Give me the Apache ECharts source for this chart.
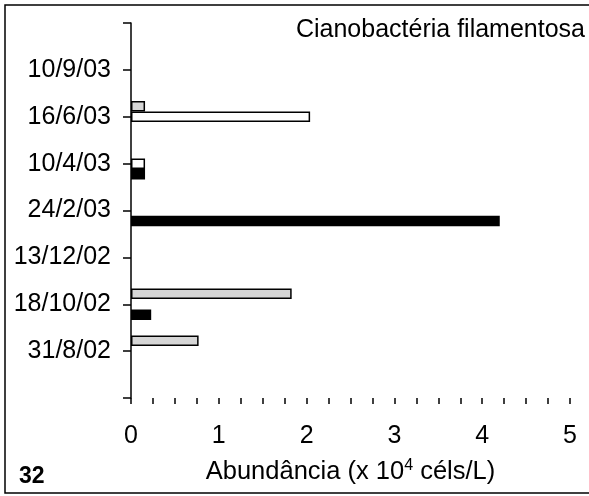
<!DOCTYPE html>
<html>
<head>
<meta charset="utf-8">
<script src="https://cdn.jsdelivr.net/npm/echarts@6/dist/echarts.min.js"></script>
<style>html,body{margin:0;padding:0;background:#fff}#c{width:589px;height:496px}</style>
</head>
<body>
<div id="c"></div>
<script>
const categories = ['', '31/8/02', '18/10/02', '13/12/02', '24/2/03', '10/4/03', '16/6/03', '10/9/03', ''];
const grayValues  = [null, 0.77, 1.83, null, null, null, 0.16, null, null];
const whiteValues = [null, null, null, null, null, 0.16, 2.04, null, null];
const blackValues = [null, null, 0.23, null, 4.20, 0.16, null, null, null];
const xTicks = [0, 1, 2, 3, 4, 5];
const titleText = 'Cianobactéria filamentosa';
const panelLabel = '32';

const FONT = 'Liberation Sans';
const FS = 25;
const chart = echarts.init(document.getElementById('c'), null, {renderer: 'canvas'});
chart.setOption({
  animation: false,
  backgroundColor: '#fff',
  textStyle: {fontFamily: FONT},
  grid: {left: 131, right: 19, top: 23, bottom: 98},
  graphic: [
    {type: 'rect', shape: {x: 5, y: 5, width: 600, height: 488}, style: {fill: 'none', stroke: '#000', lineWidth: 1.5}, z: 0},
    {type: 'text', right: 4, top: 18, style: {text: titleText, font: FS + 'px "Liberation Sans"', fill: '#000'}},
    {type: 'text', left: 19, top: 465, style: {text: panelLabel, font: 'bold 23px "Liberation Sans"', fill: '#000'}}
  ],
  xAxis: {
    type: 'value', min: xTicks[0], max: xTicks[xTicks.length - 1], interval: 1,
    name: 'Abundância (x 10{sup|4} céls/L)', nameLocation: 'middle', nameGap: 60,
    nameTextStyle: {fontSize: 25.5, color: '#000', fontFamily: FONT,
      rich: {sup: {fontSize: 16, verticalAlign: 'top', padding: [0, 0, 12, 0], color: '#000', fontFamily: FONT}}},
    axisLine: {onZero: false, lineStyle: {color: '#000', width: 1.5}},
    axisTick: {show: true, length: 6, lineStyle: {color: '#000', width: 1.5}},
    minorTick: {show: true, splitNumber: 4, length: 6, lineStyle: {color: '#000', width: 1.5}},
    axisLabel: {fontSize: FS, color: '#000', margin: 26, fontFamily: FONT},
    splitLine: {show: false}
  },
  yAxis: {
    type: 'category', data: categories, boundaryGap: false,
    axisLine: {lineStyle: {color: '#000', width: 1.5}},
    axisTick: {show: true, length: 8, interval: 0, lineStyle: {color: '#000', width: 1.5}},
    axisLabel: {fontSize: FS, color: '#000', margin: 20, interval: 0, fontFamily: FONT},
    splitLine: {show: false}
  },
  series: [
    {type: 'bar', name: 'gray', data: grayValues, barWidth: 10.5, barGap: '0%',
     itemStyle: {color: '#d6d6d6', borderColor: '#000', borderWidth: 1.5}},
    {type: 'bar', name: 'white', data: whiteValues, barWidth: 10.5, barGap: '0%',
     itemStyle: {color: '#fff', borderColor: '#000', borderWidth: 1.5}},
    {type: 'bar', name: 'black', data: blackValues, barWidth: 10.5, barGap: '0%',
     itemStyle: {color: '#000', borderColor: '#000', borderWidth: 1.5}}
  ]
});
</script>
</body>
</html>
